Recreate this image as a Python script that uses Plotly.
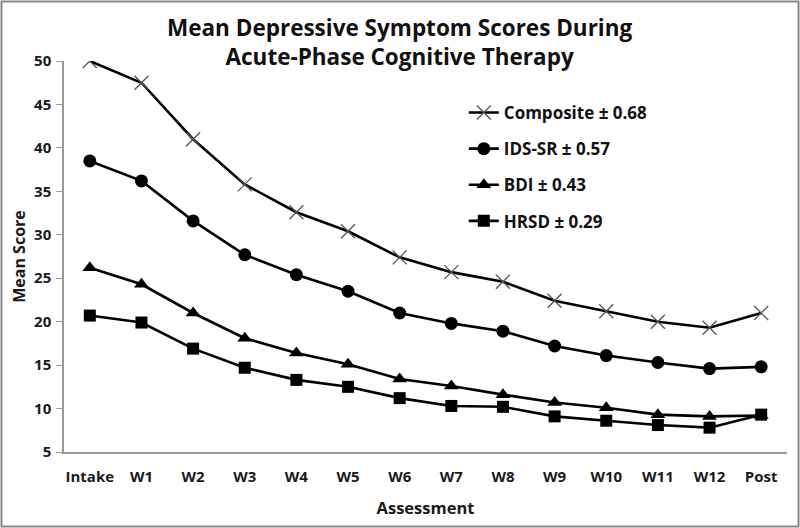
import plotly.graph_objects as go

categories = ["Intake", "W1", "W2", "W3", "W4", "W5", "W6", "W7", "W8", "W9", "W10", "W11", "W12", "Post"]
composite = [50.0, 47.5, 41.0, 35.8, 32.6, 30.4, 27.4, 25.7, 24.6, 22.4, 21.2, 20.0, 19.3, 21.0]
ids_sr = [38.5, 36.2, 31.6, 27.7, 25.4, 23.5, 21.0, 19.8, 18.9, 17.2, 16.1, 15.3, 14.6, 14.8]
bdi = [26.2, 24.3, 21.0, 18.1, 16.4, 15.1, 13.4, 12.6, 11.6, 10.7, 10.1, 9.3, 9.1, 9.2]
hrsd = [20.7, 19.9, 16.9, 14.7, 13.3, 12.5, 11.2, 10.3, 10.2, 9.1, 8.6, 8.1, 7.8, 9.3]
y_ticks = [5, 10, 15, 20, 25, 30, 35, 40, 45, 50]

series = [
    ("Composite ± 0.68", composite, dict(symbol="x-thin", size=14, line=dict(width=1.3, color="#555"), color="#555")),
    ("IDS-SR ± 0.57", ids_sr, dict(symbol="circle", size=13, color="black")),
    ("BDI ± 0.43", bdi, dict(symbol="triangle-up", size=13, color="black")),
    ("HRSD ± 0.29", hrsd, dict(symbol="square", size=12, color="black")),
]

FONT = "Open Sans"
fig = go.Figure()
for i, (name, vals, marker) in enumerate(series):
    fig.add_trace(go.Scatter(
        x=categories, y=vals, name=name, mode="lines+markers",
        line=dict(color="black", width=2.6), marker=marker,
        legendgroup=f"g{i}",
    ))

fig.update_layout(
    width=800, height=528,
    margin=dict(l=64, r=13, t=61, b=76, autoexpand=False),
    paper_bgcolor="white", plot_bgcolor="white",
    font=dict(family=FONT, color="#1a1a1a"),
    showlegend=True,
    legend=dict(
        x=0.553, y=0.913, xanchor="left", yanchor="top",
        font=dict(size=17, family=FONT, color="#111", weight="bold"),
        tracegroupgap=11, bgcolor="rgba(0,0,0,0)",
    ),
    xaxis=dict(
        type="category", range=[-0.5, 13.5], automargin=False,
        showline=True, linecolor="#999", linewidth=1.5,
        ticks="", showgrid=False, ticklabelstandoff=10,
        tickfont=dict(size=15, family=FONT, color="#1a1a1a", weight="bold"),
        title=dict(text="<b>Assessment</b>", font=dict(size=16.5, family=FONT), standoff=18),
    ),
    yaxis=dict(
        range=[5, 50], tickvals=y_ticks, automargin=False,
        showline=True, linecolor="#999", linewidth=1.5,
        ticks="outside", ticklen=6, tickcolor="#999", showgrid=False, zeroline=False,
        ticklabelstandoff=2,
        tickfont=dict(size=15, family=FONT, color="#1a1a1a", weight="bold"),
        title=dict(text="<b>Mean Score</b>", font=dict(size=16, family=FONT), standoff=4),
    ),
)

fig.add_annotation(
    text="<b>Mean Depressive Symptom Scores During<br>Acute-Phase Cognitive Therapy</b>",
    xref="paper", yref="paper", x=(400 - 64) / 723, y=(452 - 42.5) / 391,
    xanchor="center", yanchor="middle", showarrow=False,
    font=dict(size=22.5, family=FONT, color="#111"),
)

# outer gray frame of the image
fig.add_shape(type="rect", xref="paper", yref="paper",
              x0=(1.5 - 64) / 723, x1=(798.5 - 64) / 723,
              y0=(452 - 526.5) / 391, y1=(452 - 1.5) / 391,
              line=dict(color="#888", width=2), fillcolor="rgba(0,0,0,0)", layer="above")

fig.write_html("out.html", config={"displayModeBar": False},
               post_script="document.body.style.margin='0';")
